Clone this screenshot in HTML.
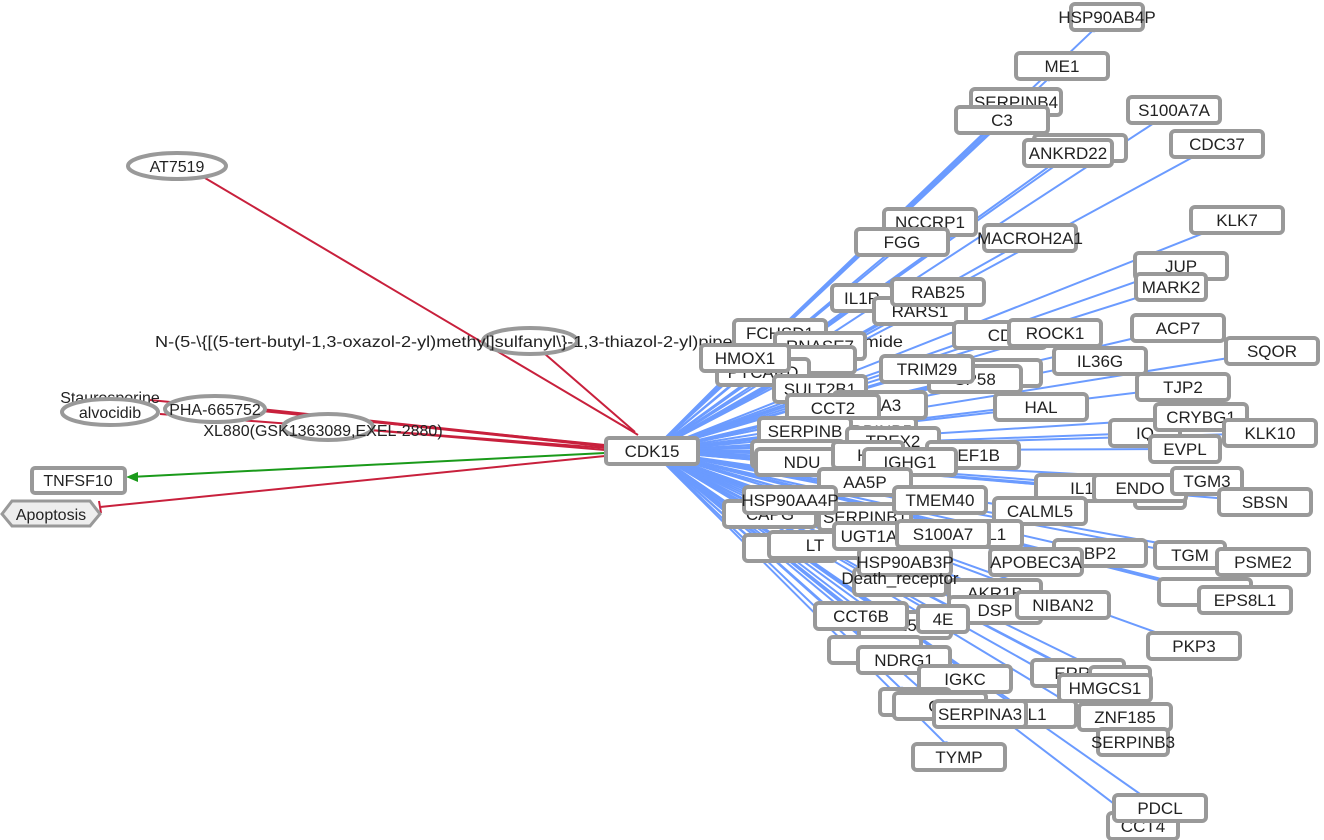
<!DOCTYPE html>
<html><head><meta charset="utf-8"><style>
html,body{margin:0;padding:0;background:#fff;width:1324px;height:840px;overflow:hidden}
svg text{font-family:"Liberation Sans",sans-serif;font-size:16px;fill:#222}
#nodes text{font-size:17px}
</style></head><body>
<svg id="s" width="1324" height="840" xmlns="http://www.w3.org/2000/svg">
<g id="edges"></g>
<g id="left">
<line x1="205" y1="178" x2="630" y2="430" stroke="#c8203c" stroke-width="2"/>
<line x1="545" y1="354" x2="635" y2="432" stroke="#c8203c" stroke-width="2"/>
<line x1="265" y1="410" x2="605" y2="446" stroke="#c8203c" stroke-width="3"/>
<line x1="160" y1="414" x2="605" y2="448" stroke="#c8203c" stroke-width="2"/>
<line x1="150" y1="400" x2="605" y2="445" stroke="#c8203c" stroke-width="2"/>
<line x1="370" y1="430" x2="605" y2="450" stroke="#c8203c" stroke-width="2"/>
<line x1="622" y1="425" x2="638" y2="435" stroke="#c8203c" stroke-width="2"/>
<line x1="605" y1="453" x2="130" y2="477" stroke="#1a9a1a" stroke-width="2"/>
<polygon points="126,477 138,472 138,482" fill="#1a9a1a"/>
<line x1="605" y1="456" x2="100" y2="507" stroke="#c8203c" stroke-width="2"/>
<line x1="99" y1="501" x2="101" y2="513" stroke="#c8203c" stroke-width="2"/>
<ellipse cx="177" cy="166" rx="49" ry="13" fill="#fff" stroke="#999" stroke-width="4"/>
<text x="177" y="172" text-anchor="middle">AT7519</text>
<ellipse cx="530" cy="341" rx="47" ry="13" fill="#fff" stroke="#999" stroke-width="4"/>
<text x="155" y="347" textLength="748" lengthAdjust="spacingAndGlyphs">N-(5-\{[(5-tert-butyl-1,3-oxazol-2-yl)methyl]sulfanyl\}-1,3-thiazol-2-yl)piperidine-4-carboxamide</text>
<text x="110" y="403" text-anchor="middle">Staurosporine</text>
<ellipse cx="110" cy="412" rx="48" ry="13" fill="#fff" stroke="#999" stroke-width="4"/>
<text x="110" y="418" text-anchor="middle">alvocidib</text>
<ellipse cx="215" cy="409" rx="50" ry="13" fill="#fff" stroke="#999" stroke-width="4"/>
<text x="215" y="415" text-anchor="middle">PHA-665752</text>
<ellipse cx="328" cy="427" rx="45" ry="13" fill="#fff" stroke="#999" stroke-width="4"/>
<text x="323" y="436" text-anchor="middle">XL880(GSK1363089,EXEL-2880)</text>
<rect x="32" y="468" width="93" height="25" rx="3" fill="#fff" stroke="#999" stroke-width="4"/>
<text x="78" y="486" text-anchor="middle">TNFSF10</text>
<polygon points="2,514 12,501 90,501 100,514 90,526 12,526" fill="#eee" stroke="#999" stroke-width="3"/>
<text x="51" y="520" text-anchor="middle">Apoptosis</text>
</g>
<g id="nodes"></g>
</svg>
<script>
var N=[
["",1080,148,92],["HSP90AB4P",1107,17,72],["ME1",1062,66,92],["SERPINB4",1016,102,90],["C3",1002,120,92],["S100A7A",1174,110,92],["CDC37",1217,144,92],["ANKRD22",1068,153,88],
["KLK7",1237,220,92],["NCCRP1",930,222,92],["FGG",902,242,92],["MACROH2A1",1030,238,92],["JUP",1181,266,92],["MARK2",1171,287,70],
["IL1R",862,298,60],["RARS1",920,311,92],["RAB25",938,292,92],["ACP7",1178,328,92],["CD",1000,335,92],["ROCK1",1055,333,92],["SQOR",1272,351,92],
["FCHSD1",780,333,92],["RNASE7",820,346,90],["",810,360,90],["PYCARD",763,372,92],["HMOX1",745,358,88],["IL36G",1100,361,92],["",995,373,92],["SP58",975,379,92],["TRIM29",927,369,92],
["SULT2B1",820,389,92],["TJP2",1183,387,92],["H1A3",880,405,92],["CCT2",833,408,92],["HAL",1041,407,92],["IQ",1145,433,70],["CRYBG1",1201,417,92],["KLK10",1270,433,92],
["SERPINB5",870,431,92],["SERPINB",805,431,92],["",798,454,92],["TREX2",893,441,92],["EVPL",1185,449,70],["EEF1B",973,455,92],["NDU",802,462,92],["H3",868,455,70],["IGHG1",910,462,92],
["AA5P",865,482,92],["IL1",1082,488,92],["A",1160,495,50],["ENDO",1140,488,92],["TGM3",1207,481,70],["SBSN",1265,502,92],
["CAPG",770,514,92],["SERPINB1",865,517,92],["HSP90AA4P",790,500,92],["TMEM40",940,500,92],["CALML5",1040,511,92],
["",790,548,92],["LT",815,545,92],["8L1",992,534,60],["UGT1A",869,536,70],["S100A7",943,534,92],["BP2",1100,553,92],["TGM",1190,555,70],["PSME2",1263,562,92],
["",900,582,92],["HSP90AB3P",905,562,92],["APOBEC3A",1036,562,92],["",1205,592,92],["EPS8L1",1245,600,92],
["AKR1B",995,593,92],["DSP",995,610,92],["NIBAN2",1063,605,92],["I25",905,625,92],["4E",943,619,50],["CCT6B",861,616,92],["PKP3",1194,646,92],
["",875,650,92],["NDRG1",904,660,92],["IGKC",965,679,92],["ERRK",1078,673,92],["4",1120,680,60],["HMGCS1",1105,688,92],
["",915,702,70],["ML1",1030,714,92],["CA",940,706,92],["SERPINA3",980,714,92],["ZNF185",1125,717,92],["SERPINB3",1133,742,70],["TYMP",959,757,92],
["CCT4",1143,826,70],["PDCL",1160,808,92]];
var ns="http://www.w3.org/2000/svg",E=document.getElementById("edges"),G=document.getElementById("nodes");
function el(t,a,p){var e=document.createElementNS(ns,t);for(var k in a)e.setAttribute(k,a[k]);p.appendChild(e);return e;}
var cx=652,cy=451;
N.forEach(function(n){
 var dx=n[1]-cx,dy=n[2]-cy,l=Math.sqrt(dx*dx+dy*dy),ex=n[1]-dx/l*18,ey=n[2]-dy/l*18;
 el("line",{x1:cx,y1:cy,x2:ex,y2:ey,stroke:"#6b9bff","stroke-width":2},E);
 el("circle",{cx:ex,cy:ey,r:3,fill:"#6b9bff"},E);
});
N.forEach(function(n){
 var w=n[3];
 el("rect",{x:n[1]-w/2,y:n[2]-13,width:w,height:26,rx:4,fill:"#fff",stroke:"#999","stroke-width":4},G);
 if(n[0]){var t=el("text",{x:n[1],y:n[2]+6,"text-anchor":"middle"},G);t.textContent=n[0];}
});
var t=el("text",{x:900,y:584,"text-anchor":"middle"},G);t.textContent="Death_receptor";
el("rect",{x:606,y:438,width:92,height:26,rx:3,fill:"#fff",stroke:"#999","stroke-width":4},G);
t=el("text",{x:652,y:457,"text-anchor":"middle"},G);t.textContent="CDK15";
</script>
</body></html>
